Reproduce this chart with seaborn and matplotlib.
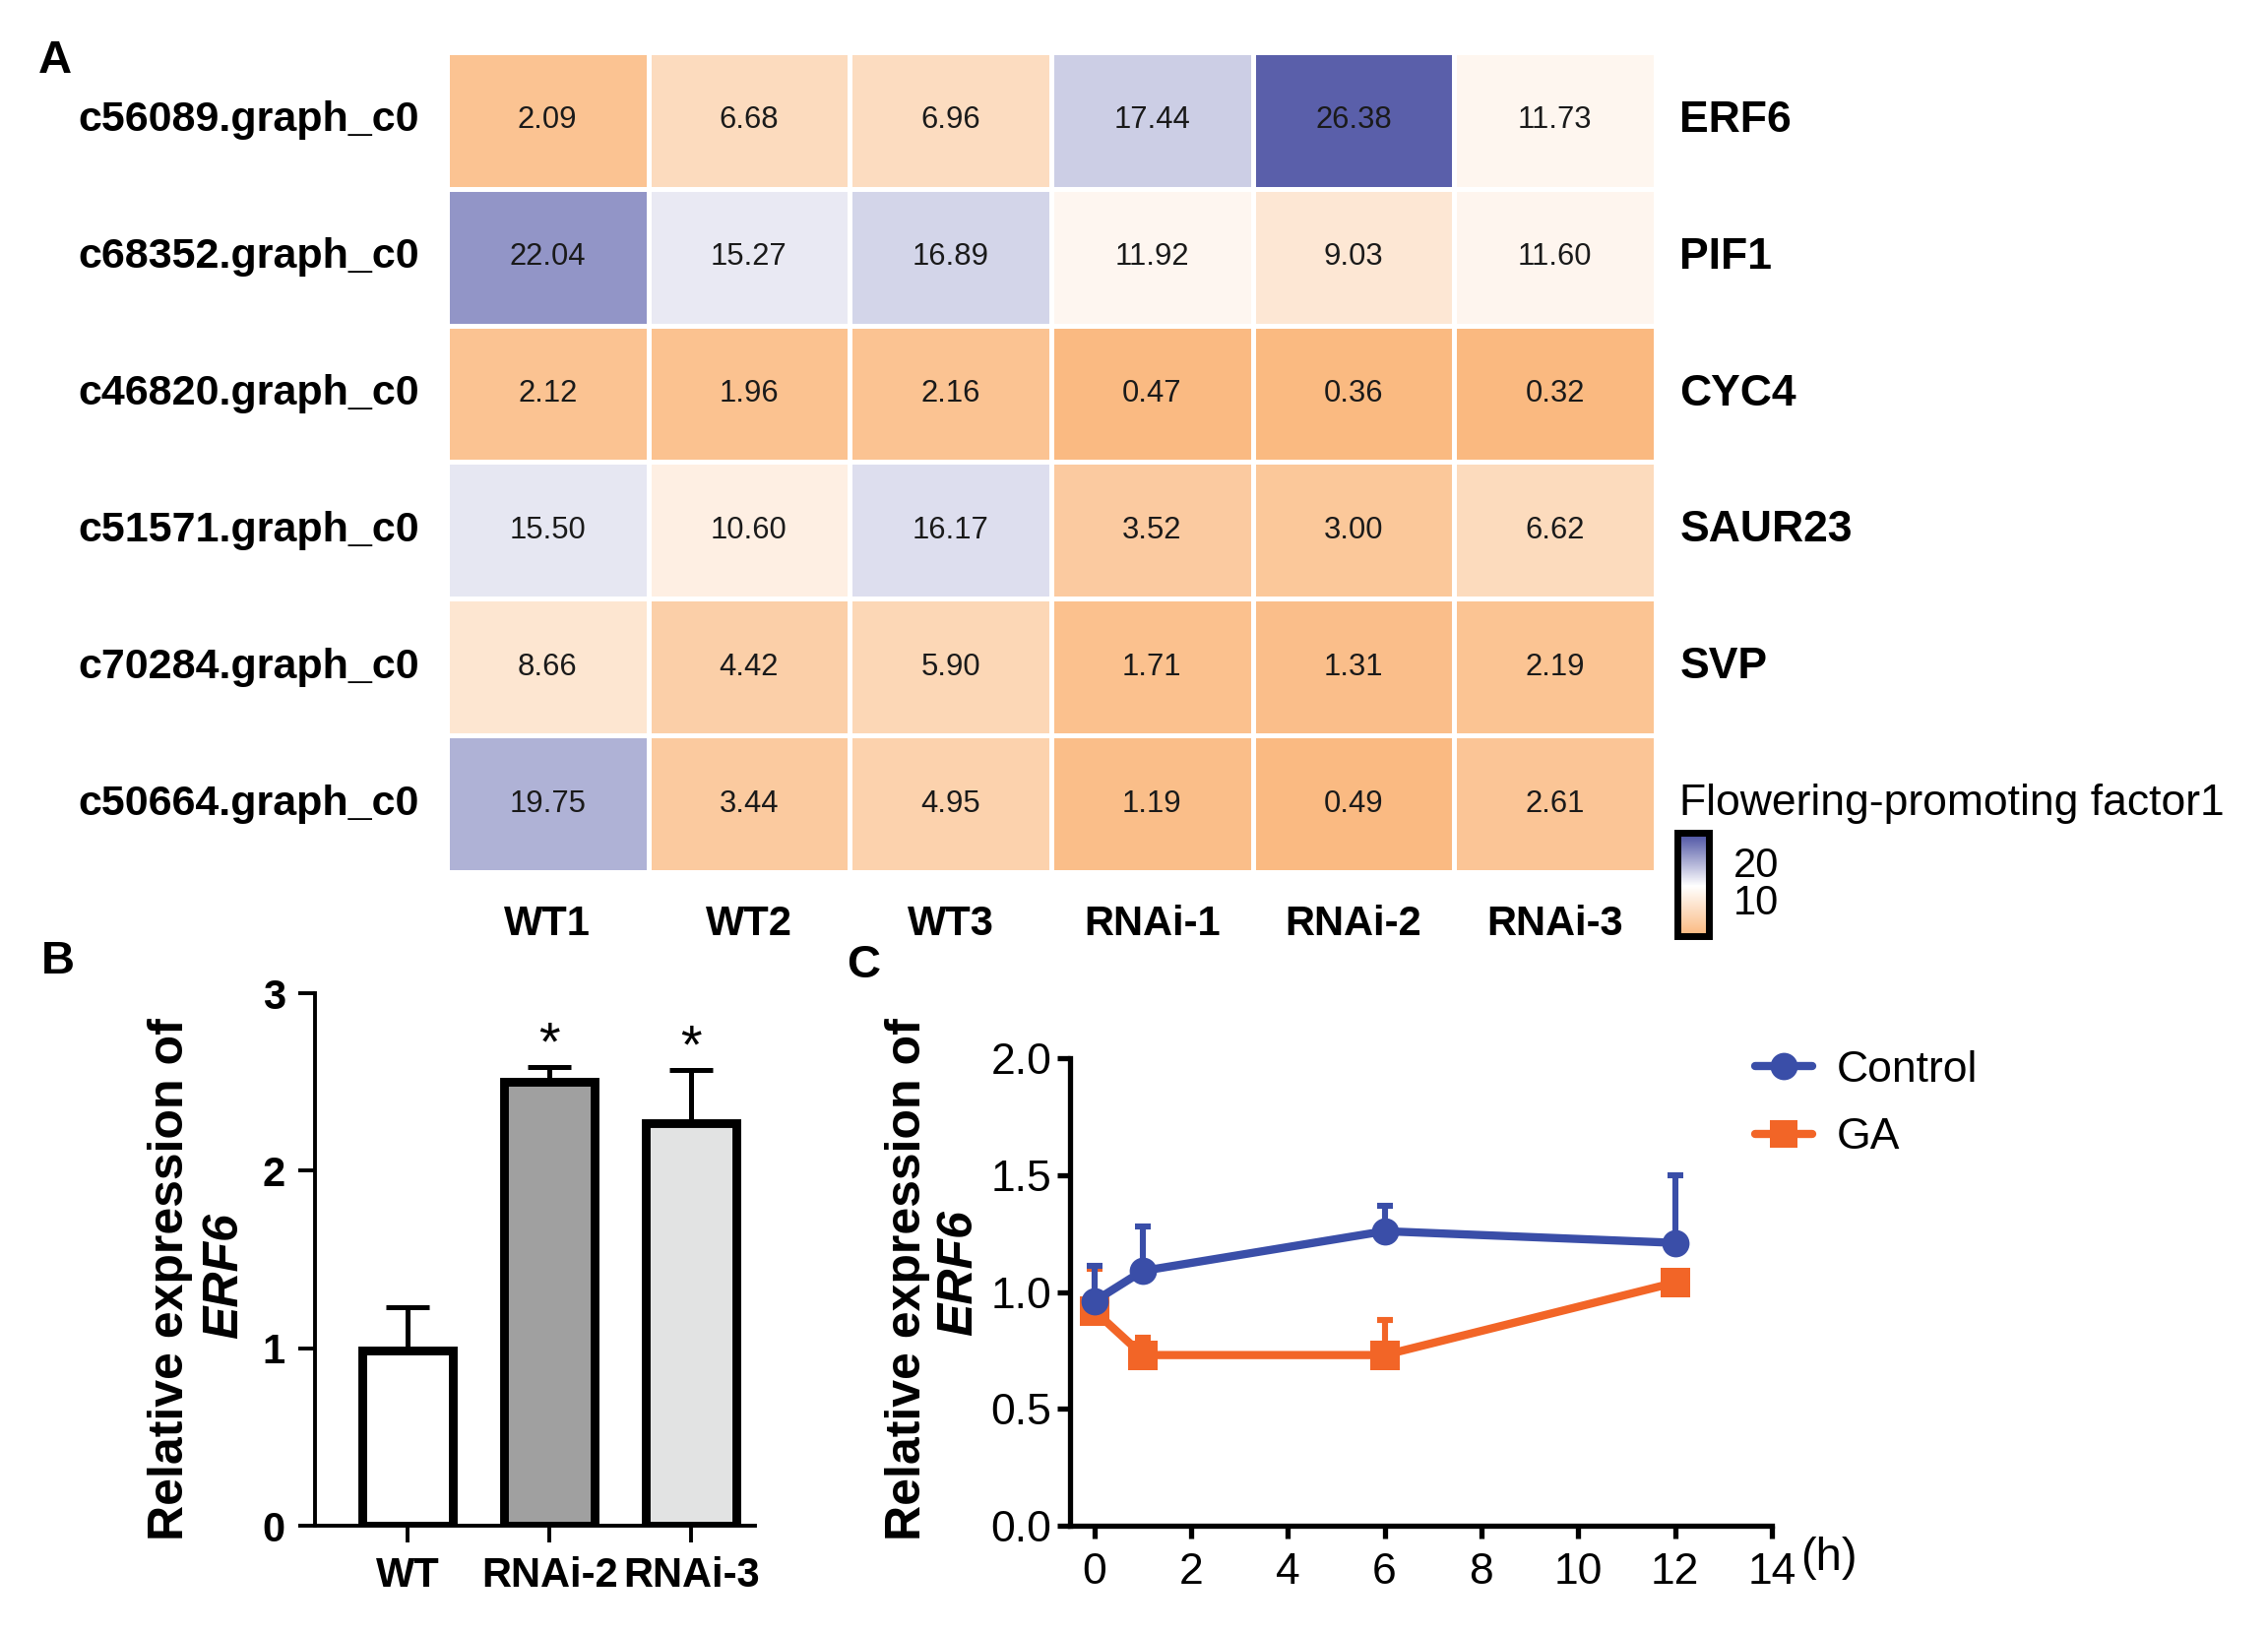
import numpy as np
import pandas as pd
import matplotlib
matplotlib.use("Agg")
import matplotlib.pyplot as plt
import matplotlib.transforms as mtransforms
import seaborn as sns
from matplotlib.colors import LinearSegmentedColormap
from matplotlib import font_manager as fm
from matplotlib.lines import Line2D

# ---------------- data ----------------
row_ids = ["c56089.graph_c0", "c68352.graph_c0", "c46820.graph_c0",
           "c51571.graph_c0", "c70284.graph_c0", "c50664.graph_c0"]
gene_names = ["ERF6", "PIF1", "CYC4", "SAUR23", "SVP", "Flowering-promoting factor1"]
samples = ["WT1", "WT2", "WT3", "RNAi-1", "RNAi-2", "RNAi-3"]
row_erf6 = [2.09, 6.68, 6.96, 17.44, 26.38, 11.73]
row_pif1 = [22.04, 15.27, 16.89, 11.92, 9.03, 11.60]
row_cyc4 = [2.12, 1.96, 2.16, 0.47, 0.36, 0.32]
row_saur23 = [15.50, 10.60, 16.17, 3.52, 3.00, 6.62]
row_svp = [8.66, 4.42, 5.90, 1.71, 1.31, 2.19]
row_fpf1 = [19.75, 3.44, 4.95, 1.19, 0.49, 2.61]
cbar_ticks = [10, 20]

bar_groups = ["WT", "RNAi-2", "RNAi-3"]
bar_means = [0.99, 2.50, 2.27]
bar_err = [0.24, 0.085, 0.30]
bar_sig = ["", "*", "*"]
bar_colors = ["#FFFFFF", "#A0A0A0", "#E2E3E3"]

times = [0, 1, 6, 12]
control_mean = [0.96, 1.09, 1.26, 1.21]
control_err = [0.15, 0.19, 0.11, 0.29]
ga_mean = [0.92, 0.73, 0.73, 1.04]
ga_err = [0.18, 0.075, 0.15, 0.0]
line_colors = {"Control": "#3A4EA8", "GA": "#F26527"}

# ---------------- style ----------------
sns.set_theme(style="ticks", rc={
    "axes.edgecolor": "black", "xtick.color": "black", "ytick.color": "black",
    "text.color": "black", "axes.labelcolor": "black"})
names = {f.name for f in fm.fontManager.ttflist}
REG = "Liberation Sans" if "Liberation Sans" in names else "DejaVu Sans"
NARROW = "Liberation Sans Narrow" if "Liberation Sans Narrow" in names else REG
nscale = 1.0 if NARROW != REG else 0.86
plt.rcParams["font.family"] = [REG, "DejaVu Sans"]

fig = plt.figure(figsize=(11.52, 8.295), dpi=200)

# ---------------- A: heatmap ----------------
axA = fig.add_axes([0.197, 0.466, 0.533, 0.502])
cax = fig.add_axes([0.7396, 0.427, 0.0139, 0.0633])
hm = pd.DataFrame([row_erf6, row_pif1, row_cyc4, row_saur23, row_svp, row_fpf1],
                  index=row_ids, columns=samples)
vmin, vmax = 0, 28
cmap = LinearSegmentedColormap.from_list(
    "fpf", [(0.0, "#FAB87E"), (12 / vmax, "#FEF7F1"), (13.5 / vmax, "#FFFFFF"), (1.0, "#464CA0")])
sns.heatmap(hm, ax=axA, cbar_ax=cax, cmap=cmap, vmin=vmin, vmax=vmax,
            annot=True, fmt=".2f",
            annot_kws={"fontsize": 13 * nscale, "color": "#1a1a1a", "family": NARROW},
            linewidths=1.1, linecolor="white")
axA.set_xlabel("")
axA.set_ylabel("")
axA.set_xticklabels(samples, rotation=0, fontsize=15, fontweight="bold")
axA.set_yticklabels(row_ids, rotation=0, fontsize=18 * nscale, fontweight="bold", family=NARROW)
axA.tick_params(axis="x", length=0, pad=12)
axA.tick_params(axis="y", length=0, pad=10)
trans = mtransforms.blended_transform_factory(axA.transAxes, axA.transData)
for i, g in enumerate(gene_names):
    axA.text(1.02, i + 0.5, g, transform=trans, ha="left", va="center",
             fontsize=16, fontweight="bold" if i < 5 else "normal")

cb = axA.collections[0].colorbar
cb.set_ticks(cbar_ticks)
cb.outline.set_linewidth(2.5)
cb.outline.set_edgecolor("black")
cax.tick_params(axis="y", direction="in", length=5, width=2, left=True, right=True,
                labelleft=False, labelright=True, labelsize=15, pad=9)

# ---------------- B: bar chart ----------------
axB = fig.add_axes([0.139, 0.0657, 0.194, 0.326])
dfB = pd.DataFrame({"group": bar_groups, "value": bar_means})
sns.barplot(data=dfB, x="group", y="value", hue="group", palette=bar_colors,
            edgecolor="black", linewidth=3.2, width=0.64, legend=False, ax=axB)
xpos = np.arange(len(bar_groups))
axB.errorbar(xpos, bar_means, yerr=[np.zeros(3), bar_err], fmt="none", ecolor="black",
             elinewidth=1.8, capsize=8, capthick=1.8, zorder=1)
for x, m, e, s in zip(xpos, bar_means, bar_err, bar_sig):
    if s:
        axB.text(x, m + e + 0.12, s, ha="center", va="center", fontsize=20)
axB.set_ylim(0, 3)
axB.set_xlim(-0.65, 2.45)
axB.set_yticks([0, 1, 2, 3])
axB.set_xlabel("")
axB.set_ylabel("")
for sp in ["top", "right"]:
    axB.spines[sp].set_visible(False)
for sp in ["left", "bottom"]:
    axB.spines[sp].set_linewidth(1.4)
axB.tick_params(axis="both", direction="out", length=6, width=1.4, labelsize=15, pad=5)
for lab in axB.get_xticklabels() + axB.get_yticklabels():
    lab.set_fontweight("bold")

# ---------------- C: time course ----------------
axC = fig.add_axes([0.4718, 0.0657, 0.3094, 0.2863])
dfC = pd.DataFrame({"time": times + times,
                    "expr": control_mean + ga_mean,
                    "group": ["Control"] * 4 + ["GA"] * 4})
for grp, mk, mean, err in [("GA", "s", ga_mean, ga_err), ("Control", "o", control_mean, control_err)]:
    sub = dfC[dfC["group"] == grp]
    axC.errorbar(times, mean, yerr=[np.zeros(4), err], fmt="none", ecolor=line_colors[grp],
                 elinewidth=2.2, capsize=3, capthick=2.2, zorder=2)
    sns.lineplot(data=sub, x="time", y="expr", color=line_colors[grp], marker=mk,
                 markersize=10 if mk == "o" else 10.5, markeredgewidth=0, linewidth=3,
                 ax=axC, legend=False, zorder=3)
axC.set_xlim(-0.5, 14)
axC.set_ylim(0, 2)
axC.set_xticks(np.arange(0, 15, 2))
axC.set_yticks([0, 0.5, 1.0, 1.5, 2.0])
axC.set_yticklabels(["0.0", "0.5", "1.0", "1.5", "2.0"])
axC.set_xlabel("")
axC.set_ylabel("")
for sp in ["top", "right"]:
    axC.spines[sp].set_visible(False)
for sp in ["left", "bottom"]:
    axC.spines[sp].set_linewidth(1.9)
axC.tick_params(axis="both", direction="out", length=4.7, width=1.9, labelsize=16)
axC.tick_params(axis="y", pad=2)
axC.tick_params(axis="x", pad=5)
for lab in axC.get_xticklabels() + axC.get_yticklabels():
    lab.set_family(NARROW)

handles = [Line2D([0], [0], color=line_colors["Control"], lw=3, marker="o", markersize=10, markeredgewidth=0),
           Line2D([0], [0], color=line_colors["GA"], lw=3, marker="s", markersize=10, markeredgewidth=0)]
fig.legend(handles, ["Control", "GA"], loc="upper left", bbox_to_anchor=(0.774, 0.357),
           frameon=False, fontsize=16, handlelength=1.3, labelspacing=0.62,
           handletextpad=0.55, borderpad=0, borderaxespad=0)
fig.text(0.794, 0.046, "(h)", ha="left", va="center", fontsize=17, family=NARROW)

# ---------------- y labels ----------------
for xl, xe, yl, ye in [(0.075, 0.099, 0.2164, 0.219), (0.4, 0.423, 0.2164, 0.2204)]:
    fig.text(xl, yl, "Relative expression of", rotation=90, ha="center", va="center",
             fontsize=18, fontweight="bold")
    fig.text(xe, ye, "ERF6", rotation=90, ha="center", va="center",
             fontsize=18, fontweight="bold", fontstyle="italic")

# ---------------- panel letters ----------------
fig.text(0.0243, 0.9626, "A", fontsize=17, fontweight="bold", ha="center", va="center")
fig.text(0.0256, 0.411, "B", fontsize=17, fontweight="bold", ha="center", va="center")
fig.text(0.3806, 0.4087, "C", fontsize=17, fontweight="bold", ha="center", va="center")

fig.savefig("out.png", dpi=200)
